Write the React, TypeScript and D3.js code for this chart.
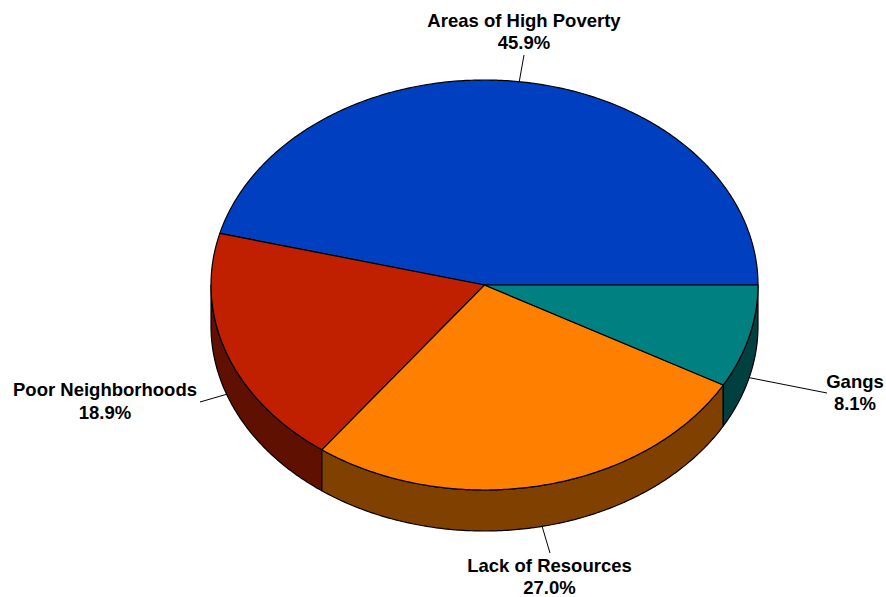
import React from "react";
import * as d3 from "d3";

const categories = ["Areas of High Poverty", "Poor Neighborhoods", "Lack of Resources", "Gangs"];
const values = [45.9, 18.9, 27.0, 8.1];
const valueLabels = ["45.9%", "18.9%", "27.0%", "8.1%"];
const topColors = ["#0040C0", "#C02000", "#FF8000", "#008080"];
const sideColors = ["#002060", "#601000", "#804000", "#004040"];

const W = 886;
const H = 597;
const cx = 484.5;
const cy = 285;
const rx = 273.5;
const ry = 205;
const depth = 41;

// label end points of leader lines and text anchors
const labelLayout = [
  { lx: 524, ly: 55, tx: 524, ty: 26.5 },
  { lx: 200, ly: 402, tx: 105, ty: 396 },
  { lx: 550, ly: 553, tx: 549.5, ty: 571.5 },
  { lx: 827, ly: 393, tx: 855, ty: 387.5 },
];

const px = (t: number) => cx + rx * Math.cos(t);
const py = (t: number, off = 0) => cy - ry * Math.sin(t) + off;

function arcPts(t0: number, t1: number, off = 0): [number, number][] {
  const n = Math.max(2, Math.ceil(Math.abs(t1 - t0) / 0.01));
  const pts: [number, number][] = [];
  for (let i = 0; i <= n; i++) {
    const t = t0 + ((t1 - t0) * i) / n;
    pts.push([px(t), py(t, off)]);
  }
  return pts;
}

export default function App() {
  const pie = d3
    .pie<number>()
    .sort(null)
    .value((d) => d)
    .startAngle(0)
    .endAngle(2 * Math.PI);
  const arcs = pie(values);
  const line = d3.line().curve(d3.curveLinear);

  const sides = arcs.map((a, i) => {
    const s0 = Math.max(a.startAngle, Math.PI);
    const s1 = Math.min(a.endAngle, 2 * Math.PI);
    if (s1 <= s0) return null;
    const pts = [...arcPts(s0, s1, 0), ...arcPts(s1, s0, depth)];
    return (
      <path
        key={"s" + i}
        d={line(pts)! + "Z"}
        fill={sideColors[i]}
        stroke="#000"
        strokeWidth={1.2}
        strokeLinejoin="round"
      />
    );
  });

  const tops = arcs.map((a, i) => {
    const pts: [number, number][] = [[cx, cy], ...arcPts(a.startAngle, a.endAngle, 0)];
    return (
      <path
        key={"t" + i}
        d={line(pts)! + "Z"}
        fill={topColors[i]}
        stroke="#000"
        strokeWidth={1.2}
        strokeLinejoin="round"
      />
    );
  });

  const labels = arcs.map((a, i) => {
    const mid = (a.startAngle + a.endAngle) / 2;
    const lower = Math.sin(mid) < 0;
    const sx = px(mid);
    const sy = py(mid, lower ? depth : 0);
    const L = labelLayout[i];
    return (
      <g key={"l" + i}>
        <line x1={sx} y1={sy} x2={L.lx} y2={L.ly} stroke="#000" strokeWidth={1} />
        <text
          x={L.tx}
          y={L.ty}
          textAnchor="middle"
          fontFamily="'Liberation Sans', Arial, sans-serif"
          fontWeight="bold"
          fontSize={18.5}
          fill="#000"
        >
          <tspan x={L.tx}>{categories[i]}</tspan>
          <tspan x={L.tx} dy={22.5}>
            {valueLabels[i]}
          </tspan>
        </text>
      </g>
    );
  });

  return (
    <svg
      width={W}
      height={H}
      style={{ position: "absolute", left: 0, top: 0, background: "#fff" }}
    >
      <rect width={W} height={H} fill="#fff" />
      {sides}
      {tops}
      {labels}
    </svg>
  );
}
